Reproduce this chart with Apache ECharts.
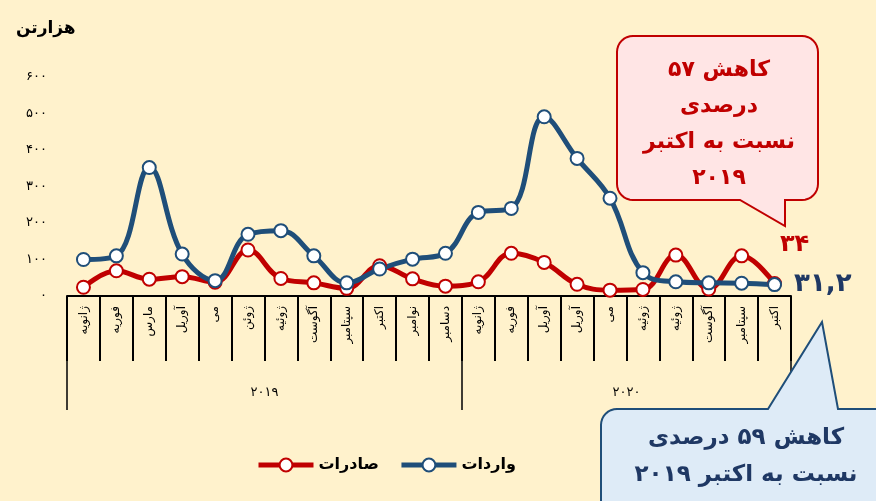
<!DOCTYPE html>
<html><head><meta charset="utf-8">
<script src="https://cdn.jsdelivr.net/npm/echarts@6/dist/echarts.min.js"></script>
<style>html,body{margin:0;padding:0;background:#FFF2CC}#c{width:876px;height:501px}</style>
</head><body><div id="c"></div>
<script>
const months = ['ژانویه','فوریه','مارس','آوریل','می','ژوئن','ژوئیه','آگوست','سپتامبر','اکتبر','نوامبر','دسامبر','ژانویه','فوریه','آوریل','آوریل','می','ژوئیه','ژوئیه','آگوست','سپتامبر','اکتبر'];
const years = ['۲۰۱۹','۲۰۲۰'];
const yearSpans = [12, 10];
const exportsData = [24,69,46,53,38,126,48,36,21,83,47,27,39,117,92,32,16,18,112,19,110,34];
const importsData = [100,110,352,115,42,169,179,110,36,74,101,117,229,240,491,377,268,64,39,36,35,31.2];
const yMax = 600, yStep = 100;
const seriesNames = ['صادرات','واردات'];
const unitName = 'هزارتن';
const redNote = 'کاهش ۵۷\nدرصدی\nنسبت به اکتبر\n۲۰۱۹';
const blueNote = 'کاهش ۵۹ درصدی\nنسبت به اکتبر ۲۰۱۹';

const FONT = 'DejaVu Sans';
const fa = s => String(s).replace(/\d/g, d => '۰۱۲۳۴۵۶۷۸۹'[d]).replace('.', ',');

const yearBounds = [0]; yearSpans.forEach(s => yearBounds.push(yearBounds[yearBounds.length-1] + s));
const yearMids = yearSpans.map((s, i) => yearBounds[i] + s / 2);

function lastLabeled(arr, lab) {
  return arr.map((v, i) => i === arr.length - 1 ? {value: v, label: Object.assign({show: true, formatter: p => fa(p.value), fontFamily: FONT, fontWeight: 'bold', fontSize: 24}, lab)} : v);
}

function callout(x0, y0, x1, y1, r, tail) {
  const pts = [];
  const arc = (cx, cy, a0, a1) => { for (let i = 0; i <= 8; i++) { const a = a0 + (a1 - a0) * i / 8; pts.push([cx + r * Math.cos(a), cy + r * Math.sin(a)]); } };
  arc(x0 + r, y0 + r, Math.PI, 1.5 * Math.PI);
  if (tail.edge === 'top') pts.push([tail.a, y0], tail.tip, [tail.b, y0]);
  arc(x1 - r, y0 + r, 1.5 * Math.PI, 2 * Math.PI);
  arc(x1 - r, y1 - r, 0, 0.5 * Math.PI);
  if (tail.edge === 'bottom') pts.push([tail.b, y1], tail.tip, [tail.a, y1]);
  arc(x0 + r, y1 - r, 0.5 * Math.PI, Math.PI);
  return pts;
}

const chart = echarts.init(document.getElementById('c'));
chart.setOption({
  backgroundColor: '#FFF2CC',
  animation: false,
  textStyle: {fontFamily: FONT},
  title: {text: unitName, left: 11, top: 15, textStyle: {fontFamily: FONT, fontSize: 17, fontWeight: 'bold', color: '#000'}},
  legend: {
    data: seriesNames, left: 251, top: 452, itemWidth: 55, itemHeight: 16, itemGap: 20,
    lineStyle: {width: 5}, itemStyle: {borderWidth: 2},
    textStyle: {fontFamily: FONT, fontSize: 16, fontWeight: 'bold', color: '#000'}
  },
  grid: {left: 67, right: 85, top: 77, bottom: 205},
  xAxis: [
    {type: 'category', data: months, position: 'bottom',
     axisLine: {lineStyle: {color: '#000', width: 2}},
     axisTick: {show: true, interval: 0, length: 65, lineStyle: {color: '#000', width: 2}},
     axisLabel: {interval: 0, rotate: 90, margin: 10, fontSize: 12, color: '#000', fontFamily: FONT}},
    {type: 'value', min: 0, max: yearBounds[yearBounds.length-1], position: 'bottom',
     axisLine: {show: false}, splitLine: {show: false},
     axisTick: {show: true, customValues: yearBounds, length: 114, lineStyle: {color: '#000', width: 1.5}},
     axisLabel: {customValues: yearMids, formatter: v => years[yearMids.indexOf(v)] || '', margin: 90, fontSize: 13, color: '#000', fontFamily: FONT}}
  ],
  yAxis: {type: 'value', min: 0, max: yMax, interval: yStep,
    axisLine: {show: false}, axisTick: {show: false}, splitLine: {show: false},
    axisLabel: {formatter: v => fa(v), margin: 20, fontSize: 13, color: '#000', fontFamily: FONT}},
  series: [
    {name: seriesNames[0], type: 'line', xAxisIndex: 0, smooth: 0.4, symbol: 'circle', symbolSize: 13,
     data: lastLabeled(exportsData, {position: 'top', offset: [20, -14], color: '#C00000'}),
     lineStyle: {color: '#C00000', width: 5}, itemStyle: {color: '#fff', borderColor: '#C00000', borderWidth: 2}},
    {name: seriesNames[1], type: 'line', xAxisIndex: 0, smooth: 0.4, symbol: 'circle', symbolSize: 13,
     data: lastLabeled(importsData, {position: 'right', distance: 12, color: '#1F3864', fontSize: 26}),
     lineStyle: {color: '#1F4E79', width: 5}, itemStyle: {color: '#fff', borderColor: '#1F4E79', borderWidth: 2}}
  ],
  graphic: [
    {type: 'polygon', shape: {points: callout(617, 36, 818, 200, 16, {edge: 'bottom', a: 740, b: 785, tip: [785, 226]})},
     style: {fill: '#FFE5E5', stroke: '#C00000', lineWidth: 2}, z: 10},
    {type: 'text', style: {text: redNote, x: 719, y: 124, textAlign: 'center', textVerticalAlign: 'middle', font: 'bold 22px "DejaVu Sans"', fill: '#C00000', lineHeight: 36}, z: 11},
    {type: 'polygon', shape: {points: callout(601, 409, 895, 520, 16, {edge: 'top', a: 768, b: 838, tip: [822, 322]})},
     style: {fill: '#DEEBF7', stroke: '#1F4E79', lineWidth: 2}, z: 10},
    {type: 'text', style: {text: blueNote, x: 746, y: 457, textAlign: 'center', textVerticalAlign: 'middle', font: 'bold 23px "DejaVu Sans"', fill: '#1F3864', lineHeight: 37}, z: 11}
  ]
});
</script></body></html>
